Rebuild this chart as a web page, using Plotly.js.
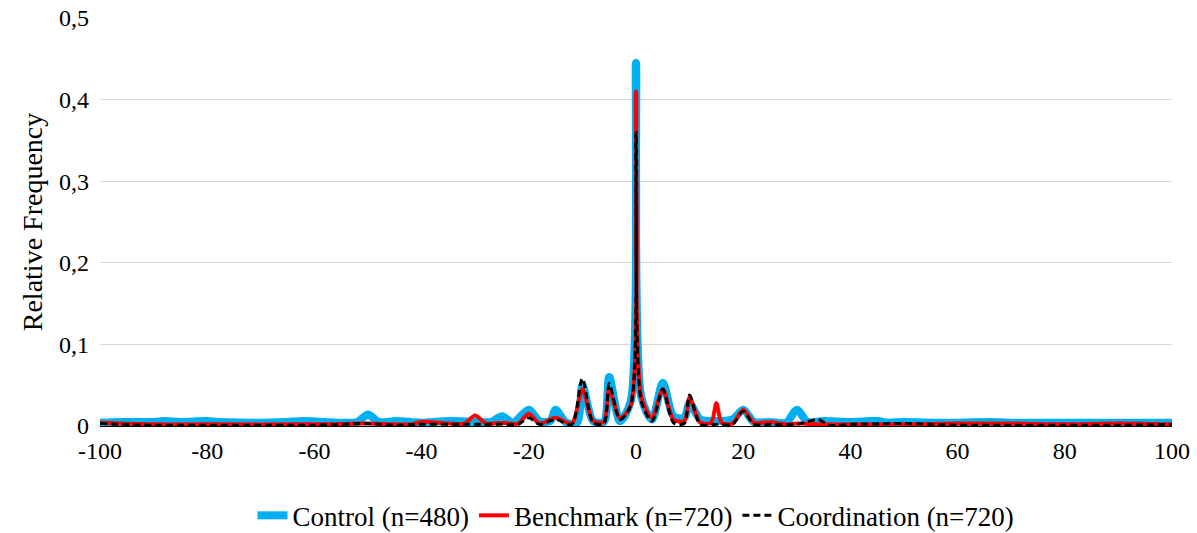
<!DOCTYPE html>
<html><head><meta charset="utf-8">
<script src="https://cdn.plot.ly/plotly-3.0.1.min.js"></script>
<style>body{margin:0}</style></head>
<body><div id="myDiv" style="width:1197px;height:533px"></div>
<script>
var ctrlX = [-100,-96,-90,-88,-85,-80,-78,-70,-65,-62,-55,-52,-50,-48,-45,-42,-40,-35,-30,-27,-25,-23,-20,-18,-16,-15,-13,-11,-10,-8,-6,-5,-3,-1,0,1,3,5,7,9,10,12,15,18,20,22,25,28,30,32,35,40,45,47,50,55,60,66,70,80,90,100];
var ctrlY = [0.004,0.005,0.005,0.006,0.005,0.006,0.005,0.004,0.005,0.006,0.004,0.005,0.014,0.005,0.006,0.005,0.004,0.006,0.005,0.005,0.012,0.004,0.02,0.006,0.006,0.02,0.004,0.004,0.05,0.006,0.005,0.06,0.006,0.03,0.445,0.035,0.008,0.053,0.012,0.01,0.028,0.008,0.006,0.008,0.02,0.005,0.005,0.004,0.02,0.005,0.006,0.005,0.006,0.004,0.005,0.004,0.004,0.005,0.004,0.004,0.004,0.004];
var benchX = [-100,-90,-80,-60,-50,-45,-42,-40,-35,-32,-30,-28,-25,-22,-20,-18,-15,-12,-10,-8,-6,-5,-3,-1,0,1,3,5,7,9,10,12,14,15,16,18,20,22,25,28,30,35,40,50,60,70,80,90,100];
var benchY = [0.004,0.002,0.002,0.002,0.003,0.002,0.002,0.005,0.003,0.003,0.013,0.003,0.004,0.003,0.015,0.003,0.01,0.003,0.045,0.006,0.005,0.045,0.01,0.025,0.41,0.035,0.01,0.045,0.008,0.006,0.035,0.004,0.004,0.028,0.004,0.003,0.02,0.004,0.005,0.002,0.003,0.002,0.002,0.002,0.003,0.003,0.002,0.003,0.002];
var coordX = [-100,-90,-80,-60,-50,-45,-40,-35,-30,-25,-22,-20,-18,-15,-12,-10,-8,-6,-5,-3,-1,0,1,3,5,7,9,10,12,15,18,20,22,25,30,34,36,40,50,60,70,80,90,100];
var coordY = [0.003,0.001,0.001,0.001,0.003,0.001,0.002,0.002,0.002,0.002,0.002,0.01,0.002,0.008,0.002,0.058,0.004,0.003,0.052,0.008,0.025,0.36,0.03,0.006,0.045,0.004,0.003,0.038,0.002,0.002,0.002,0.018,0.002,0.002,0.002,0.008,0.001,0.002,0.003,0.001,0.001,0.001,0.001,0.002];
var xTicks = [-100,-80,-60,-40,-20,0,20,40,60,80,100];
var xText = ['-100','-80','-60','-40','-20','0','20','40','60','80','100'];
var yTicks = [0,0.1,0.2,0.3,0.4,0.5];
var yText = ['0','0,1','0,2','0,3','0,4','0,5'];

var serif = 'Times New Roman';
var data = [
  {x: ctrlX, y: ctrlY, mode: 'lines', name: 'Control (n=480)',
   line: {color: '#00b0f0', width: 8, shape: 'spline', smoothing: 0.8}},
  {x: benchX, y: benchY, mode: 'lines', name: 'Benchmark (n=720)',
   line: {color: '#ff0000', width: 4, shape: 'spline', smoothing: 0.8}},
  {x: coordX, y: coordY, mode: 'lines', name: 'Coordination (n=720)',
   line: {color: '#000000', width: 3, dash: '7px,4px', shape: 'spline', smoothing: 0.8}}
];
var layout = {
  width: 1197, height: 533,
  margin: {l: 100, r: 25, t: 18, b: 107, autoexpand: false},
  font: {family: serif, size: 24, color: '#000'},
  showlegend: true,
  legend: {orientation: 'h', x: 0.5, xanchor: 'center', y: -0.16, yanchor: 'top',
    font: {family: serif, size: 27, color: '#000'}},
  xaxis: {range: [-100, 100], tickvals: xTicks, ticktext: xText, showgrid: false, zeroline: false,
    showline: false, ticks: '', ticklabelstandoff: 8, tickfont: {family: serif, size: 24}},
  yaxis: {range: [0, 0.5], tickvals: yTicks, ticktext: yText, gridcolor: '#d9d9d9',
    zeroline: true, zerolinecolor: '#000', zerolinewidth: 1, ticklabelstandoff: 10,
    tickfont: {family: serif, size: 24},
    title: {text: 'Relative Frequency', font: {family: serif, size: 28}, standoff: 8}},
  plot_bgcolor: '#fff', paper_bgcolor: '#fff'
};
Plotly.newPlot('myDiv', data, layout, {displayModeBar: false});
</script></body></html>
